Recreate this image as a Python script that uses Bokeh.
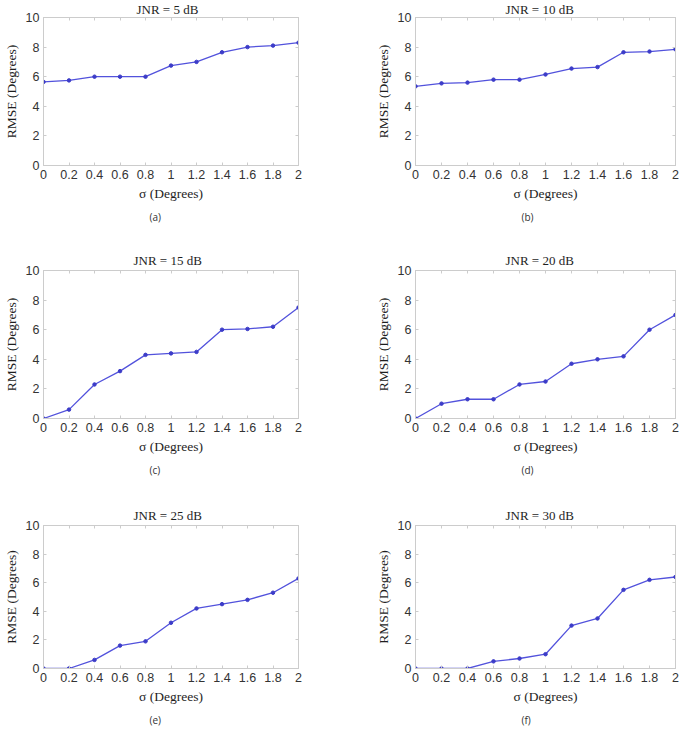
from bokeh.plotting import figure
from bokeh.layouts import column, row
from bokeh.models import (FixedTicker, CustomJSTickFormatter, LinearAxis, Title, Range1d)
from bokeh.embed import file_html
from bokeh.resources import INLINE

# sigma of the perturbation (degrees)
sigma = [0.0, 0.2, 0.4, 0.6, 0.8, 1.0, 1.2, 1.4, 1.6, 1.8, 2.0]

# RMSE (degrees) for each jammer-to-noise ratio
rmse_jnr5 = [5.65, 5.75, 6.0, 6.0, 6.0, 6.75, 7.0, 7.65, 8.0, 8.1, 8.3]
rmse_jnr10 = [5.35, 5.55, 5.6, 5.8, 5.8, 6.15, 6.55, 6.65, 7.65, 7.7, 7.85]
rmse_jnr15 = [0.0, 0.6, 2.3, 3.2, 4.3, 4.4, 4.5, 6.0, 6.05, 6.2, 7.5]
rmse_jnr20 = [0.0, 1.0, 1.3, 1.3, 2.3, 2.5, 3.7, 4.0, 4.2, 6.0, 7.0]
rmse_jnr25 = [0.0, 0.0, 0.6, 1.6, 1.9, 3.2, 4.2, 4.5, 4.8, 5.3, 6.3]
rmse_jnr30 = [0.0, 0.0, 0.0, 0.5, 0.7, 1.0, 3.0, 3.5, 5.5, 6.2, 6.4]

jnr_db = [5, 10, 15, 20, 25, 30]
panel_tags = ["(a)", "(b)", "(c)", "(d)", "(e)", "(f)"]
series = [rmse_jnr5, rmse_jnr10, rmse_jnr15, rmse_jnr20, rmse_jnr25, rmse_jnr30]

x_ticks = [0.0, 0.2, 0.4, 0.6, 0.8, 1.0, 1.2, 1.4, 1.6, 1.8, 2.0]
y_ticks = [0, 2, 4, 6, 8, 10]

SERIF = "Liberation Serif"
SANS = "Liberation Sans"
BOX = "#cccccc"
TICK_TXT = "#333333"
LINE = "#5252dc"
DOT = "#3c3cc8"

FRAME_H = 148


def style_box_axis(ax):
    ax.axis_line_color = BOX
    ax.major_tick_line_color = BOX
    ax.minor_tick_line_color = None
    ax.major_tick_in = 3
    ax.major_tick_out = 0


def make_panel(jnr, values, tag, right_col, fig_h, border_top, title_standoff):
    p = figure(width=344, height=fig_h, output_backend="svg", toolbar_location=None,
               x_range=Range1d(0, 2), y_range=Range1d(0, 10),
               min_border_left=71 if right_col else 37,
               min_border_right=13 if right_col else 46,
               min_border_top=border_top,
               min_border_bottom=fig_h - border_top - FRAME_H)
    p.grid.visible = False
    p.outline_line_color = BOX
    p.background_fill_color = "white"

    p.title.text = f"JNR = {jnr} dB"
    p.title.align = "left"
    p.title.offset = 93 if jnr < 10 else 90
    p.title.text_font = SERIF
    p.title.text_font_size = "13px"
    p.title.text_font_style = "normal"
    p.title.text_color = "#1e1e1e"
    p.title.standoff = title_standoff

    p.line(sigma, values, line_color=LINE, line_width=1.3)
    p.scatter(sigma, values, size=3.5, fill_color=DOT, line_color=DOT)

    xa = p.xaxis[0]
    xa.ticker = FixedTicker(ticks=x_ticks)
    xa.formatter = CustomJSTickFormatter(code="return String(Math.round(tick * 10) / 10)")
    xa.axis_label = "σ (Degrees)"
    ya = p.yaxis[0]
    ya.ticker = FixedTicker(ticks=y_ticks)
    ya.axis_label = "RMSE (Degrees)"
    for ax in (xa, ya):
        style_box_axis(ax)
        ax.major_label_text_font = SANS
        ax.major_label_text_font_size = "12.5px"
        ax.major_label_text_color = TICK_TXT
        ax.major_label_standoff = 4
        ax.axis_label_text_font = SERIF
        ax.axis_label_text_font_size = "13.5px"
        ax.axis_label_text_font_style = "normal"
        ax.axis_label_text_color = "#1e1e1e"
        ax.axis_label_standoff = 4

    # mirrored tick marks on the top and right edges of the box (no labels)
    top = LinearAxis(ticker=FixedTicker(ticks=x_ticks), major_label_text_color=None,
                     major_label_text_font_size="1px", major_label_standoff=0)
    right = LinearAxis(ticker=FixedTicker(ticks=y_ticks), major_label_text_color=None,
                       major_label_text_font_size="1px", major_label_standoff=0)
    style_box_axis(top)
    style_box_axis(right)
    p.add_layout(top, "above")
    p.add_layout(right, "right")

    p.add_layout(Title(text=tag, align="left", offset=106, text_font="Open Sans",
                       text_font_size="10px", text_font_style="normal",
                       text_color="#333333", standoff=8), "below")
    return p


# per-row figure height, top border and title standoff
row_heights = [252, 255, 230]
row_border_top = [24, 25, 25]
row_title_standoff = [2, 6, 6]

rows = []
for r in range(3):
    pair = []
    for c in range(2):
        i = 2 * r + c
        pair.append(make_panel(jnr_db[i], series[i], panel_tags[i], c == 1,
                               row_heights[r], row_border_top[r], row_title_standoff[r]))
    rows.append(row(*pair))

layout = column(*rows, styles={"margin-top": "-7px"})

open("out.html", "w").write(file_html(layout, INLINE))
